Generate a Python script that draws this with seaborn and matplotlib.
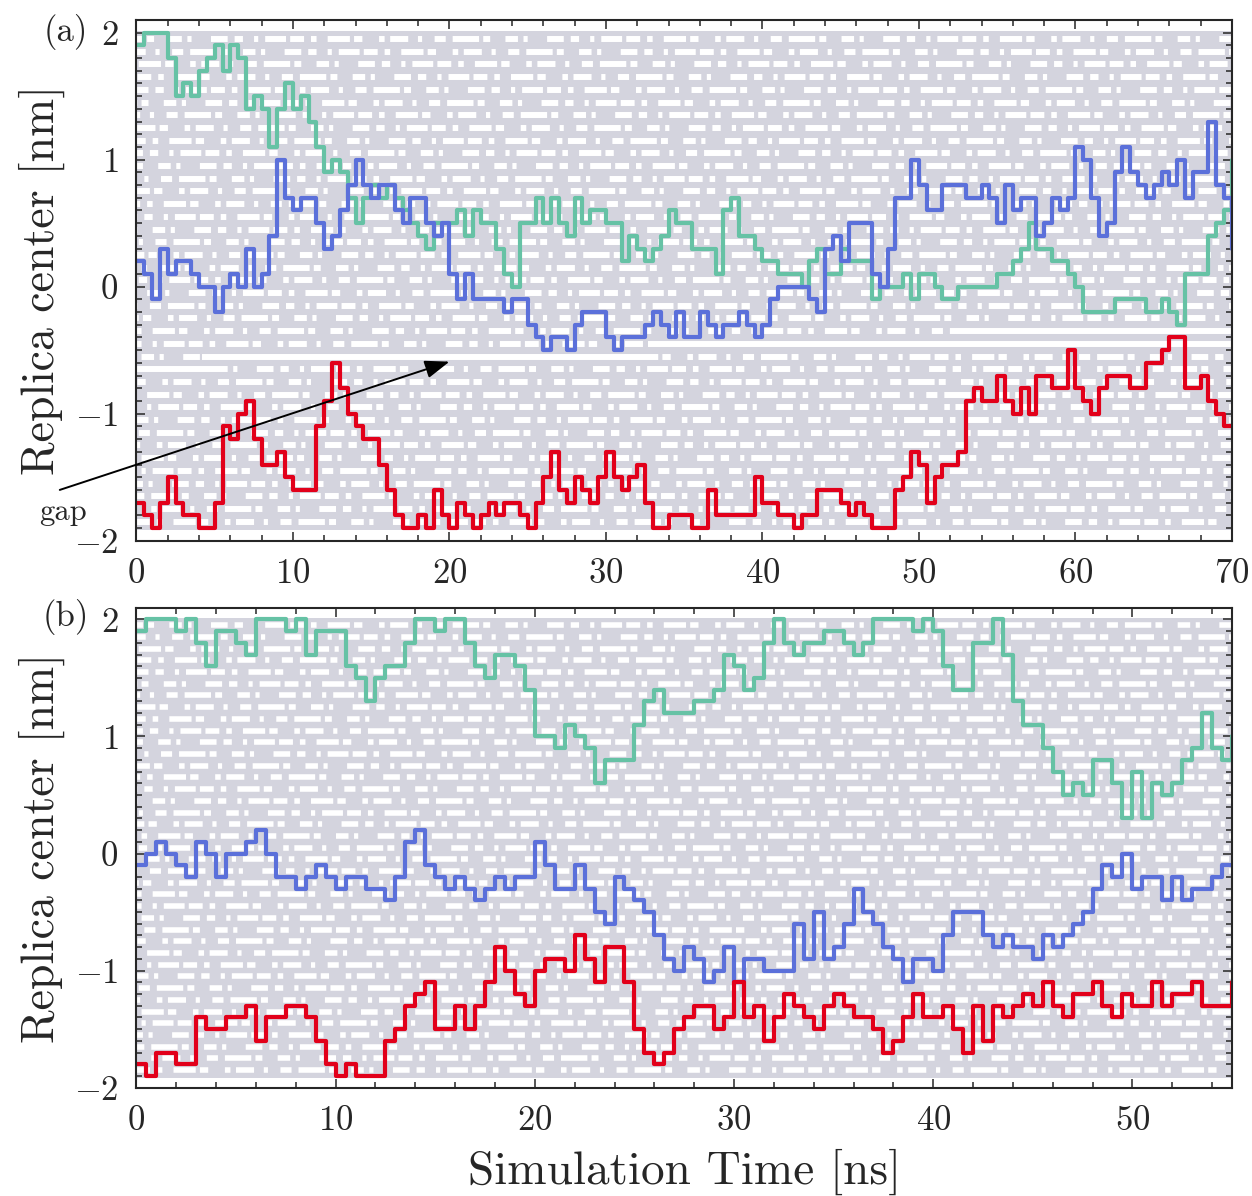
import numpy as np
import pandas as pd
import matplotlib
matplotlib.use("Agg")
import matplotlib.pyplot as plt
import seaborn as sns
from matplotlib.ticker import MultipleLocator

# ---------------- data ----------------
t_a = np.arange(0, 70.01, 0.5)
t_b = np.arange(0, 55.01, 0.5)

green_a = [1.9, 2.0, 2.0, 2.0, 1.8, 1.5, 1.6, 1.5, 1.7, 1.8, 1.9, 1.7, 1.9, 1.8, 1.4, 1.5, 1.4, 1.1,
           1.4, 1.6, 1.4, 1.5, 1.3, 1.1, 0.9, 1.0, 0.9, 0.7, 0.5, 0.7, 0.8, 0.7, 0.8, 0.7, 0.6,
           0.5, 0.4, 0.3, 0.5, 0.5, 0.5, 0.6, 0.4, 0.6, 0.5, 0.5, 0.3, 0.1, 0.0, 0.5, 0.5, 0.7,
           0.5, 0.7, 0.5, 0.4, 0.7, 0.5, 0.6, 0.6, 0.5, 0.5, 0.2, 0.4, 0.3, 0.2, 0.3, 0.4, 0.6, 0.5,
           0.5, 0.3, 0.3, 0.3, 0.1, 0.6, 0.7, 0.4, 0.4, 0.3, 0.2, 0.2, 0.1, 0.1, 0.1, 0.0, 0.2,
           0.3, 0.1, 0.1, 0.3, 0.2, 0.2, 0.2, -0.1, 0.0, 0.0, 0.0, 0.1, -0.1, 0.1, 0.1, 0.0, -0.1,
           -0.1, 0.0, 0.0, 0.0, 0.0, 0.0, 0.1, 0.1, 0.2, 0.3, 0.5, 0.3, 0.3, 0.2, 0.2, 0.1, 0.0,
           -0.2, -0.2, -0.2, -0.2, -0.1, -0.1, -0.1, -0.1, -0.2, -0.2, -0.1, -0.2, -0.3, 0.1, 0.1,
           0.1, 0.4, 0.5, 0.6, 1.0]
blue_a = [0.2, 0.1, -0.1, 0.3, 0.1, 0.2, 0.2, 0.1, 0.0, 0.0, -0.2, 0.0, 0.1, 0.0, 0.3, 0.0, 0.1,
          0.4, 1.0, 0.7, 0.6, 0.7, 0.7, 0.5, 0.3, 0.4, 0.6, 0.8, 1.0, 0.8, 0.7, 0.8, 0.8, 0.6, 0.5,
          0.7, 0.7, 0.5, 0.4, 0.5, 0.1, -0.1, 0.1, -0.1, -0.1, -0.1, -0.1, -0.2, -0.1, -0.1, -0.3,
          -0.4, -0.5, -0.4, -0.4, -0.5, -0.3, -0.2, -0.2, -0.2, -0.4, -0.5, -0.4, -0.4, -0.4, -0.3,
          -0.2, -0.3, -0.4, -0.2,
          -0.4, -0.4, -0.2, -0.3, -0.4, -0.3, -0.3, -0.2, -0.3, -0.4, -0.3, -0.1, 0.0, 0.0, 0.0,
          0.0, -0.1, -0.2, 0.3, 0.4, 0.2, 0.5, 0.5, 0.5, 0.1, 0.0, 0.3, 0.7, 0.7, 1.0, 0.8, 0.6,
          0.6, 0.8,
          0.8, 0.8, 0.7, 0.7, 0.8, 0.7, 0.5, 0.8, 0.6, 0.7, 0.7, 0.4, 0.5, 0.7, 0.6, 0.7, 1.1, 1.0,
          0.7, 0.4, 0.5, 0.9, 1.1, 0.9, 0.8, 0.7, 0.8, 0.9, 0.8, 1.0, 0.7, 0.9, 0.9, 1.3, 0.8, 0.7,
          0.3]
red_a = [-1.7, -1.8, -1.9, -1.7, -1.5, -1.7, -1.8, -1.8, -1.9, -1.9, -1.7, -1.1, -1.2, -1.0, -0.9,
         -1.2, -1.4, -1.4, -1.3, -1.5, -1.6, -1.6, -1.6, -1.1, -0.9, -0.6, -0.8, -1.0, -1.1, -1.2,
         -1.2, -1.4, -1.6, -1.8, -1.9,
         -1.9, -1.8, -1.9, -1.6, -1.8, -1.9, -1.7, -1.8, -1.9, -1.8, -1.7, -1.8, -1.7, -1.7, -1.8,
         -1.9, -1.7, -1.5, -1.3, -1.6, -1.7, -1.5, -1.6, -1.7, -1.5, -1.3, -1.5, -1.6, -1.5, -1.4,
         -1.7, -1.9, -1.9, -1.8, -1.8,
         -1.8, -1.9, -1.9, -1.6, -1.8, -1.8, -1.8, -1.8, -1.8, -1.5, -1.7, -1.7, -1.8, -1.8, -1.9,
         -1.8, -1.8, -1.6, -1.6, -1.6, -1.7, -1.8, -1.7, -1.8, -1.9, -1.9, -1.9, -1.6, -1.5, -1.3,
         -1.4, -1.7, -1.5, -1.4,
         -1.4, -1.3, -0.9, -0.8, -0.9, -0.9, -0.7, -0.9, -1.0, -0.8, -1.0, -0.7, -0.7, -0.8, -0.8,
         -0.5, -0.8, -0.9, -1.0, -0.8, -0.7, -0.7, -0.7, -0.8, -0.8, -0.6, -0.6, -0.5, -0.4, -0.4,
         -0.8, -0.8, -0.7, -0.9, -1.0, -1.1, -1.1]

green_b = [1.9, 2.0, 2.0, 2.0, 1.9, 2.0, 1.8, 1.6, 1.9, 1.9, 1.8, 1.7, 2.0, 2.0, 2.0, 1.9, 2.0, 1.7,
           1.9, 1.9, 1.9, 1.6, 1.5, 1.3, 1.5, 1.6, 1.6, 1.8,
           2.0, 2.0, 1.9, 2.0, 2.0, 1.8, 1.6, 1.5, 1.7, 1.7, 1.6, 1.4, 1.0, 1.0, 0.9, 1.1, 1.0, 0.9,
           0.6, 0.8, 0.8, 0.8, 1.1, 1.3, 1.4, 1.2, 1.2,
           1.2, 1.3, 1.3, 1.4, 1.7, 1.6, 1.4, 1.5, 1.8, 2.0, 1.8, 1.7, 1.8, 1.8, 1.9, 1.9, 1.8, 1.7,
           1.8, 2.0, 2.0, 2.0, 2.0, 1.9, 2.0, 1.9, 1.6,
           1.4, 1.4, 1.8, 1.8, 2.0, 1.7, 1.3, 1.1, 1.1, 0.9, 0.7, 0.5, 0.6, 0.5, 0.8, 0.8, 0.6, 0.3,
           0.7, 0.3, 0.6, 0.5, 0.6, 0.8, 0.9, 1.2, 0.9, 0.8, 1.0]
blue_b = [-0.1, 0.0, 0.1, 0.0, -0.1, -0.2, 0.1, 0.0, -0.2, 0.0, 0.0, 0.1, 0.2, 0.0, -0.2, -0.2,
          -0.3, -0.2, -0.1, -0.2, -0.3, -0.2, -0.2, -0.3, -0.3, -0.4, -0.2, 0.1,
          0.2, -0.1, -0.2, -0.3, -0.2, -0.3, -0.4, -0.3, -0.2, -0.3, -0.2, -0.2, 0.1, -0.1, -0.3,
          -0.3, -0.1, -0.3, -0.5, -0.6, -0.2, -0.3, -0.4, -0.5, -0.7, -0.9, -1.0,
          -0.8, -0.9, -1.1, -1.0, -0.8, -1.1, -0.9, -0.9, -1.0, -1.0, -1.0, -0.6, -0.9, -0.5, -0.9,
          -0.8, -0.6, -0.3, -0.5, -0.6, -0.8, -0.9, -1.1, -0.9, -0.9, -1.0, -0.7,
          -0.5, -0.5, -0.5, -0.7, -0.8, -0.7, -0.8, -0.8, -0.9, -0.7, -0.8, -0.7, -0.6, -0.5, -0.3,
          -0.1, -0.2, 0.0, -0.3, -0.2, -0.2, -0.4, -0.2, -0.4, -0.3, -0.3, -0.2, -0.1, -0.1]
red_b = [-1.8, -1.9, -1.7, -1.7, -1.8, -1.8, -1.4, -1.5, -1.5, -1.4, -1.4, -1.3, -1.6, -1.4, -1.4,
         -1.3, -1.3, -1.4, -1.6, -1.8, -1.9, -1.8, -1.9, -1.9, -1.9, -1.6, -1.5, -1.3,
         -1.2, -1.1, -1.5, -1.5, -1.3, -1.5, -1.3, -1.1, -0.8, -1.0, -1.2, -1.3, -1.0, -0.9, -0.9,
         -1.0, -0.7, -0.9, -1.1, -0.8, -0.8, -1.1, -1.5, -1.7, -1.8, -1.7, -1.5,
         -1.4, -1.3, -1.3, -1.5, -1.4, -1.1, -1.4, -1.3, -1.6, -1.4, -1.2, -1.3, -1.4, -1.5, -1.3,
         -1.2, -1.3, -1.4, -1.4, -1.5, -1.7, -1.6, -1.4, -1.2, -1.4, -1.4, -1.3,
         -1.5, -1.7, -1.3, -1.6, -1.3, -1.4, -1.3, -1.2, -1.3, -1.1, -1.3, -1.4, -1.2, -1.2, -1.1,
         -1.3, -1.4, -1.2, -1.3, -1.3, -1.1, -1.3, -1.2, -1.2, -1.1, -1.3, -1.3, -1.3, -1.1]

# replica levels (gray background) and gap segments in panel (a): (t_start, t_end, y)
level_mids = np.round(np.arange(-1.85, 1.96, 0.1), 2)
gaps_a = [(0.0, 5.1, -0.65), (4.2, 32.7, -0.55), (32.7, 70.0, -0.45), (52.0, 70.0, -0.35)]

colors = {"green": "#66c2a5", "blue": "#5b70da", "red": "#e2001a"}
gray = "#d4d4de"

# ---------------- style ----------------
sns.set_style("ticks")
plt.rcParams.update({
    "font.family": "serif",
    "font.serif": ["cmr10", "DejaVu Serif"],
    "mathtext.fontset": "cm",
    "axes.formatter.use_mathtext": True,
    "lines.scale_dashes": False,
    "axes.unicode_minus": True,
})

fig = plt.figure(figsize=(12.52, 11.96), dpi=100)
ax1 = fig.add_axes([0.109, 0.5479, 0.875, 0.4354])
ax2 = fig.add_axes([0.109, 0.0906, 0.875, 0.4013])

# texture of the exchange background (white = no swap between neighbouring levels)
dash_seq = (10, 5, 4, 8, 16, 3, 6, 12, 4, 4, 13, 7, 3, 9, 8, 5, 19, 3, 5, 11, 9, 4, 3, 14,
            12, 5, 6, 8, 3, 5, 15, 3, 7, 10, 4, 6)
period = sum(dash_seq)


def draw_panel(ax, t, g, b, r, tmax, dash_lw, gaps=()):
    ax.axhspan(-1.915, 2.012, color=gray, lw=0, zorder=0)
    for i, ym in enumerate(level_mids):
        ax.plot([0, tmax], [ym, ym], color="white", lw=dash_lw,
                linestyle=((i * 53) % period, dash_seq), solid_capstyle="butt",
                dash_capstyle="butt", zorder=1)
    for (t0, t1, yy) in gaps:
        ax.plot([t0, t1], [yy, yy], color="white", lw=dash_lw, solid_capstyle="butt", zorder=1)
    df = pd.DataFrame({
        "time": np.concatenate([t, t, t]),
        "center": np.concatenate([g, b, r]),
        "replica": ["green"] * len(t) + ["blue"] * len(t) + ["red"] * len(t),
    })
    sns.lineplot(data=df, x="time", y="center", hue="replica", palette=colors,
                 hue_order=["green", "blue", "red"], estimator=None, drawstyle="steps-post",
                 lw=3.0, legend=False, ax=ax, zorder=3)
    ax.set_xlim(0, tmax)
    ax.set_ylim(-2.0, 2.1)
    ax.xaxis.set_major_locator(MultipleLocator(10))
    ax.xaxis.set_minor_locator(MultipleLocator(2))
    ax.yaxis.set_major_locator(MultipleLocator(1))
    ax.yaxis.set_minor_locator(MultipleLocator(0.1))
    ax.tick_params(which="both", direction="in", top=True, right=True, width=1.1,
                   labelsize=25, pad=13)
    ax.tick_params(which="major", length=6.5)
    ax.tick_params(which="minor", length=4)
    for s in ax.spines.values():
        s.set_linewidth(1.5)
        s.set_zorder(6)
    ax.set_ylabel("Replica center [nm]", fontsize=33, labelpad=6)
    ax.set_xlabel("")


draw_panel(ax1, t_a, green_a, blue_a, red_a, 70, 4.3, gaps_a)
draw_panel(ax2, t_b, green_b, blue_b, red_b, 55, 4.0)
ax2.set_xlabel("Simulation Time [ns]", fontsize=34, labelpad=8)

ax1.annotate("", xy=(20.0, -0.59), xytext=(-4.9, -1.6),
             arrowprops=dict(arrowstyle="-|>,head_length=0.6,head_width=0.22",
                             color="black", lw=1.4, mutation_scale=25,
                             shrinkA=0, shrinkB=0),
             annotation_clip=False, zorder=8)
ax1.text(-4.7, -1.78, "gap", ha="center", va="center", fontsize=22, clip_on=False)

fig.text(66 / 1252, 1 - 32 / 1196, "(a)", ha="center", va="center", fontsize=25)
fig.text(66 / 1252, 1 - 617 / 1196, "(b)", ha="center", va="center", fontsize=25)

fig.savefig("out.png", dpi=100)
